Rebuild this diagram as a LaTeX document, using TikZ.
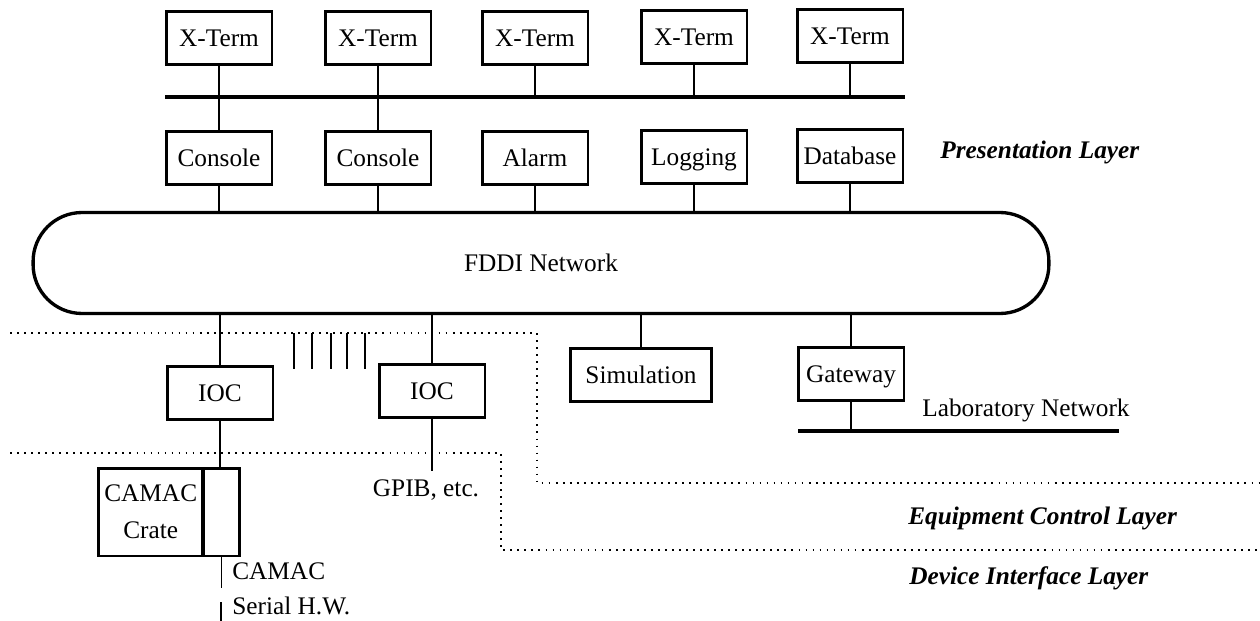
\documentclass[tikz,border=0pt]{standalone}
\usepackage{fontspec}
\setmainfont{Liberation Serif}
\usetikzlibrary{positioning}

\begin{document}
\begin{tikzpicture}[x=0.02cm, y=-0.02cm,
    every node/.style={font=\fontsize{14.4}{17}\selectfont},
    box/.style={draw, line width=1.7pt, minimum width=2.12cm, minimum height=1.06cm, inner sep=1pt,
        text height=9.5pt, text depth=0pt},
    link/.style={line width=0.75pt},
    bus/.style={line width=2.3pt},
    layer/.style={font=\fontsize{14.4}{17}\selectfont\bfseries\itshape, anchor=west, inner sep=0pt},
    layerline/.style={line width=1pt, dash pattern=on 1pt off 3pt}]
    \useasboundingbox (0,0) rectangle (1260,621);

    % Terminals
    \node[box] (xt1) at (219,38) {X-Term};
    \node[box] (xt2) at (378,38) {X-Term};
    \node[box] (xt3) at (535,38) {X-Term};
    \node[box] (xt4) at (694,37) {X-Term};
    \node[box] (xt5) at (850,36) {X-Term};

    % Presentation hosts
    \node[box] (con1) [below=1.28cm of xt1] {Console};
    \node[box] (con2) [below=1.28cm of xt2] {Console};
    \node[box] (alarm) [below=1.28cm of xt3] {Alarm};
    \node[box] (log) [below=1.28cm of xt4] {Logging};
    \node[box] (db) [below=1.28cm of xt5] {Database};
    \node[layer] (presl) at (940,152) {Presentation Layer};

    % X bus
    \coordinate (bl) at (165,97);
    \coordinate (br) at (905,97);
    \draw[bus] (bl) -- (br);
    \draw[link] (xt1) -- (con1);
    \draw[link] (xt2) -- (con2);
    \draw[link] (xt3) -- (xt3 |- bl);
    \draw[link] (xt4) -- (xt4 |- bl);
    \draw[link] (xt5) -- (xt5 |- bl);

    % FDDI ring
    \node[draw, line width=1.9pt, rounded corners=0.98cm, minimum width=20.32cm, minimum height=2.02cm] (fddi) at (541,263) {FDDI Network};
    \draw[link] (con1) -- (con1 |- fddi.north);
    \draw[link] (con2) -- (con2 |- fddi.north);
    \draw[link] (alarm) -- (alarm |- fddi.north);
    \draw[link] (log) -- (log |- fddi.north);
    \draw[link] (db) -- (db |- fddi.north);

    % Equipment control
    \node[box] (ioc1) at (220,393) {IOC};
    \node[box] (ioc2) at (432,391) {IOC};
    \node[box, minimum width=2.82cm] (sim) at (641,375) {Simulation};
    \node[box] (gw) at (851,374) {Gateway};
    \draw[link] (fddi.south -| ioc1) -- (ioc1);
    \draw[link] (fddi.south -| ioc2) -- (ioc2);
    \draw[link] (fddi.south -| sim) -- (sim);
    \draw[link] (fddi.south -| gw) -- (gw);
    \foreach \x in {294,312,331,347,365}
        \draw[link] (\x,333) -- (\x,369);

    % Laboratory network
    \coordinate (ll) at (798,431);
    \coordinate (lr) at (1119,431);
    \draw[bus] (ll) -- (lr);
    \draw[link] (gw) -- (gw |- ll);
    \node[anchor=west, inner sep=0pt] (labnet) at (922,410) {Laboratory Network};

    % Device interface
    \node[box, text height=, text depth=, minimum width=2.09cm, minimum height=1.76cm, align=center] (crate) at (150.75,512) {CAMAC\\[4pt]Crate};
    \node[box, minimum width=0.73cm, minimum height=1.76cm] (slot) at (221.25,512) {};
    \draw[link] (ioc1) -- (ioc1 |- slot.north);
    \coordinate (camacend) at (221,588);
    \coordinate (serialtop) at (221,602);
    \coordinate (serialend) at (221,621);
    \draw[link] (slot.south) -- (slot.south |- camacend);
    \draw[link] (serialtop) -- (serialend);
    \node[anchor=west, inner sep=0pt] (camacl) at (232,571) {CAMAC};
    \node[anchor=west, inner sep=0pt] (seriall) at (232,606) {Serial H.W.};
    \coordinate (gpibend) at (430,471);
    \draw[link] (ioc2) -- (ioc2 |- gpibend);
    \node[inner sep=0pt] (gpib) at (426,490) {GPIB, etc.};

    % Layer borders
    \draw[layerline] (10,333) -- (537,333) -- (537,483) -- (1260,483);
    \draw[layerline] (10,453) -- (501,453) -- (501,550) -- (1260,550);
    \node[layer] (eqpl) at (908,518) {Equipment Control Layer};
    \node[layer] (devl) at (909,578) {Device Interface Layer};
\end{tikzpicture}
\end{document}
